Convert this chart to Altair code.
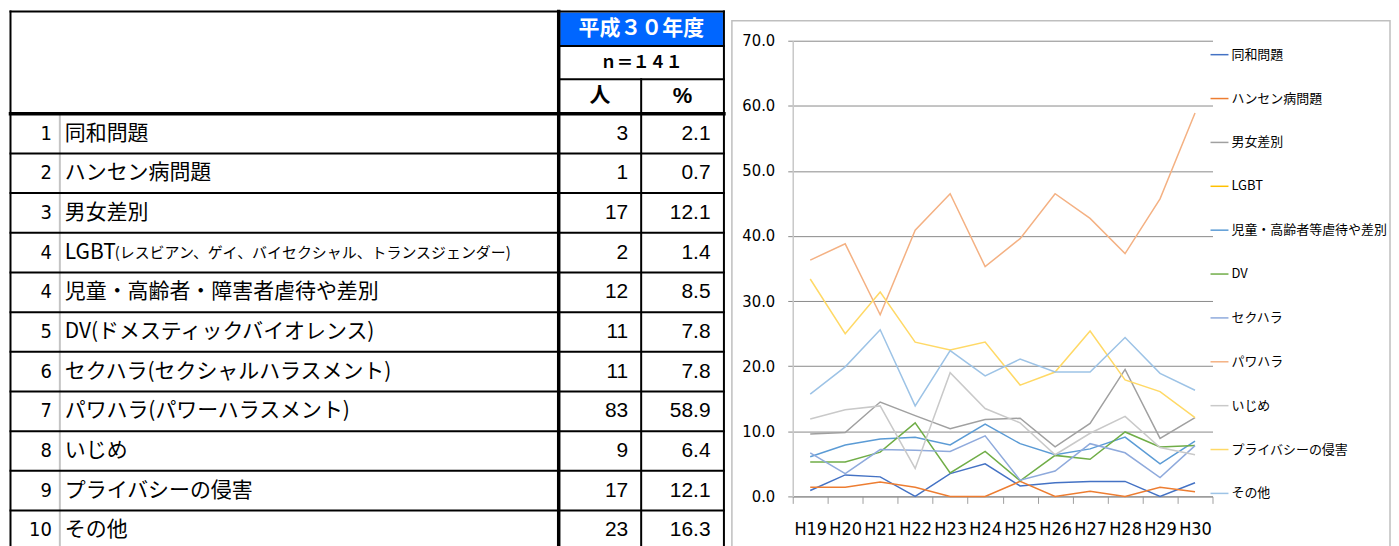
import altair as alt
import pandas as pd

# ---------------- data ----------------
years = ["H19", "H20", "H21", "H22", "H23", "H24", "H25", "H26", "H27", "H28", "H29", "H30"]

series = ["同和問題", "ハンセン病問題", "男女差別", "LGBT", "児童・高齢者等虐待や差別", "DV",
          "セクハラ", "パワハラ", "いじめ", "プライバシーの侵害", "その他"]
colors = ["#4472C4", "#ED7D31", "#A0A0A0", "#FFC000", "#5B9BD5", "#70AD47",
          "#8FAADC", "#F4B183", "#C9C9C9", "#FFD966", "#9DC3E6"]

dowa      = [0.9, 3.3, 3.0, 0.0, 3.5, 5.0, 1.6, 2.1, 2.3, 2.3, 0.0, 2.1]
hansen    = [1.4, 1.4, 2.2, 1.4, 0.0, 0.0, 2.3, 0.0, 0.8, 0.0, 1.4, 0.7]
danjo     = [9.6, 9.8, 14.5, 12.4, 10.4, 11.8, 12.0, 7.6, 11.2, 19.5, 8.9, 12.1]
lgbt      = [None, None, None, None, None, None, None, None, None, None, None, 1.4]
jido      = [6.1, 7.9, 8.8, 9.1, 7.9, 11.1, 8.1, 6.4, 7.3, 9.1, 5.0, 8.5]
dv        = [5.3, 5.3, 6.8, 11.3, 3.6, 6.9, 2.4, 6.3, 5.7, 9.9, 7.6, 7.8]
sekuhara  = [6.7, 3.5, 7.2, 7.1, 6.9, 9.3, 2.5, 3.9, 8.1, 6.7, 2.9, 7.8]
pawahara  = [36.3, 38.8, 27.9, 40.9, 46.5, 35.3, 39.6, 46.5, 42.7, 37.3, 45.7, 58.9]
ijime     = [11.9, 13.3, 13.9, 4.3, 19.0, 13.5, 11.3, 6.4, 9.7, 12.3, 7.5, 6.4]
privacy   = [33.4, 25.0, 31.4, 23.7, 22.5, 23.7, 17.1, 19.1, 25.4, 17.9, 16.1, 12.1]
sonota    = [15.7, 19.9, 25.6, 13.9, 22.4, 18.5, 21.1, 19.1, 19.1, 24.4, 18.9, 16.3]

series_values = [dowa, hansen, danjo, lgbt, jido, dv, sekuhara, pawahara, ijime, privacy, sonota]

# table (平成30年度)
row_no = ["1", "2", "3", "4", "4", "5", "6", "7", "8", "9", "10"]
row_label = ["同和問題", "ハンセン病問題", "男女差別", "LGBT", "児童・高齢者・障害者虐待や差別",
             "DV(ドメスティックバイオレンス)", "セクハラ(セクシャルハラスメント)",
             "パワハラ(パワーハラスメント)", "いじめ", "プライバシーの侵害", "その他"]
lgbt_note = "(レスビアン、ゲイ、バイセクシャル、トランスジェンダー)"
counts = [3, 1, 17, 2, 12, 11, 11, 83, 9, 17, 23]
pcts = [2.1, 0.7, 12.1, 1.4, 8.5, 7.8, 7.8, 58.9, 6.4, 12.1, 16.3]
header_year = "平成３０年度"
header_n = "ｎ＝１４１"
header_people = "人"
header_pct = "%"

# ---------------- fonts ----------------
FONT_JP = "Noto Sans CJK JP"
FONT_NUM = "Liberation Sans"
FONT_NARROW = "Liberation Sans Narrow, DejaVu Sans Condensed, Liberation Sans"

# ---------------- table layout (units = page px minus 8) ----------------
TW = 718
VIEW_TOP = 31.3                 # table units where the shared view origin sits
TOP, H1, H2, HB, PITCH = 2, 36.5, 70, 104.5, 39.8
NROWS = len(row_label)
BOTTOM = HB + PITCH * NROWS
TH = BOTTOM - VIEW_TOP
XL, XNUM, XGRAY, XLAB, XS1, XCNT, XS2, XPCT, XR = 0.5, 42, 50, 55, 550.3, 620, 633, 702.6, 716

xs = alt.Scale(domain=[0, TW], nice=False, zero=False)
ys = alt.Scale(domain=[BOTTOM, VIEW_TOP], nice=False, zero=False)


def seg_df(segs):
    return pd.DataFrame(segs, columns=["x", "y", "x2", "y2"])


def rules(segs, width, color="black"):
    return alt.Chart(seg_df(segs)).mark_rule(strokeWidth=width, color=color, strokeCap="square").encode(
        x=alt.X("x:Q", scale=xs, axis=None), x2="x2:Q",
        y=alt.Y("y:Q", scale=ys, axis=None), y2="y2:Q")


thin_segs = [(XL, TOP, XR, TOP), (XS1, H1, XR, H1), (XS1, H2, XR, H2),
             (XL, TOP, XL, BOTTOM), (XS2, H2, XS2, BOTTOM), (XR, TOP, XR, BOTTOM)]
thin_segs += [(XL, HB + PITCH * k, XR, HB + PITCH * k) for k in range(1, NROWS + 1)]
thick_segs = [(XL, HB, XR, HB), (XS1, TOP, XS1, BOTTOM)]
gray_segs = [(XGRAY, HB + 1.5, XGRAY, BOTTOM)]

blue = alt.Chart(pd.DataFrame({"x": [XS1 + 1.5], "x2": [XR - 1], "y": [TOP + 1], "y2": [H1 - 1]})).mark_rect(
    color="#0066FF").encode(x=alt.X("x:Q", scale=xs, axis=None), x2="x2:Q",
                            y=alt.Y("y:Q", scale=ys, axis=None), y2="y2:Q")

rows_df = pd.DataFrame({
    "no": row_no, "label": row_label, "cnt": counts, "pct": pcts,
    "y": [HB + PITCH * (i + 0.5) for i in range(NROWS)],
})


def col_text(field, x, align, font, size, fmt=None, weight="normal", df=rows_df, color="black"):
    d = df.assign(xx=x)
    t = alt.Text(field, format=fmt) if fmt else alt.Text(field)
    return alt.Chart(d).mark_text(align=align, baseline="middle", font=font, fontSize=size,
                                  fontWeight=weight, color=color).encode(
        x=alt.X("xx:Q", scale=xs, axis=None), y=alt.Y("y:Q", scale=ys, axis=None), text=t)


t_no = col_text("no:N", XNUM, "right", FONT_NARROW, 20)
t_label = col_text("label:N", XLAB, "left", FONT_JP, 21)
note_df = pd.DataFrame({"note": [lgbt_note], "y": [HB + PITCH * 3.5]})
t_note = col_text("note:N", XLAB + 50, "left", FONT_JP, 15, df=note_df)
t_cnt = col_text("cnt:Q", XCNT, "right", FONT_NUM, 21)
t_pct = col_text("pct:Q", XPCT, "right", FONT_NUM, 21, fmt=".1f")

t_year = col_text("t:N", (XS1 + XR) / 2, "center", FONT_JP, 21, weight="bold", color="white",
                  df=pd.DataFrame({"t": [header_year], "y": [(TOP + H1) / 2 + 0.5]}))
t_n = col_text("t:N", (XS1 + XR) / 2, "center", FONT_JP, 16.5, weight="bold",
               df=pd.DataFrame({"t": [header_n], "y": [(H1 + H2) / 2 + 0.5]}))
t_people = col_text("t:N", (XS1 + XS2) / 2, "center", FONT_JP, 21, weight="bold",
                    df=pd.DataFrame({"t": [header_people], "y": [(H2 + HB) / 2]}))
t_pcthdr = col_text("t:N", (XS2 + XR) / 2, "center", FONT_NUM, 22, weight="bold",
                    df=pd.DataFrame({"t": [header_pct], "y": [(H2 + HB) / 2]}))

table = alt.layer(blue, rules(gray_segs, 2, "#C4C4C4"), rules(thin_segs, 2), rules(thick_segs, 3.5),
                  t_no, t_label, t_note, t_cnt, t_pct, t_year, t_n, t_people, t_pcthdr
                  ).properties(width=TW, height=TH)

# ---------------- line chart ----------------
recs = []
for name, vals in zip(series, series_values):
    for yr, v in zip(years, vals):
        if v is not None:
            recs.append({"year": yr, "series": name, "value": v})
ldf = pd.DataFrame(recs)

LW, LH = 421, 457

lines = alt.Chart(ldf).mark_line(strokeWidth=1.5).encode(
    x=alt.X("year:N", sort=years, bandPosition=0.5,
            scale=alt.Scale(type="band", paddingInner=0, paddingOuter=0),
            axis=alt.Axis(title=None, labelAngle=0, tickBand="extent", tickSize=7, tickColor="#A0A0A0",
                          domainColor="#8C8C8C", domainWidth=1, grid=False,
                          labelFont=FONT_NARROW, labelFontSize=18, labelColor="black",
                          labelPadding=17)),
    y=alt.Y("value:Q", scale=alt.Scale(domain=[0, 70], nice=False),
            axis=alt.Axis(title=None, values=list(range(0, 71, 10)), format=".1f",
                          grid=True, gridColor="#8A8A8A", gridWidth=1,
                          tickSize=5, tickColor="#8A8A8A", domainColor="#C8C8C8", domainWidth=1.5,
                          labelFont=FONT_NARROW, labelFontSize=16.5, labelColor="black",
                          labelPadding=13)),
    color=alt.Color("series:N", sort=series, scale=alt.Scale(domain=series, range=colors),
                    legend=alt.Legend(title=None, orient="none", legendX=418, legendY=4,
                                      symbolType="stroke", symbolSize=324, symbolStrokeWidth=1.5,
                                      labelFont=FONT_JP, labelFontSize=13, labelColor="black",
                                      labelOffset=2, rowPadding=27, padding=0, labelLimit=170)),
)

deco_df = pd.DataFrame({"a": [0]})
border = alt.Chart(deco_df).mark_rect(fill="transparent", stroke="#BFBFBF", strokeWidth=1.5).encode(
    x=alt.value(-61), x2=alt.value(599), y=alt.value(-20), y2=alt.value(LH + 70))
spacer = alt.Chart(deco_df).mark_rule(strokeOpacity=0).encode(
    x=alt.value(0), x2=alt.value(1), y=alt.value(-31))

line_chart = alt.layer(border, spacer, lines).properties(width=LW, height=LH)

chart = alt.hconcat(table, line_chart, spacing=4).resolve_scale(color="independent").resolve_legend(
    color="independent").properties(
    padding=0, background="white"
).configure_view(strokeWidth=0)

chart.save("out.html", embed_options={"renderer": "svg", "actions": False})
